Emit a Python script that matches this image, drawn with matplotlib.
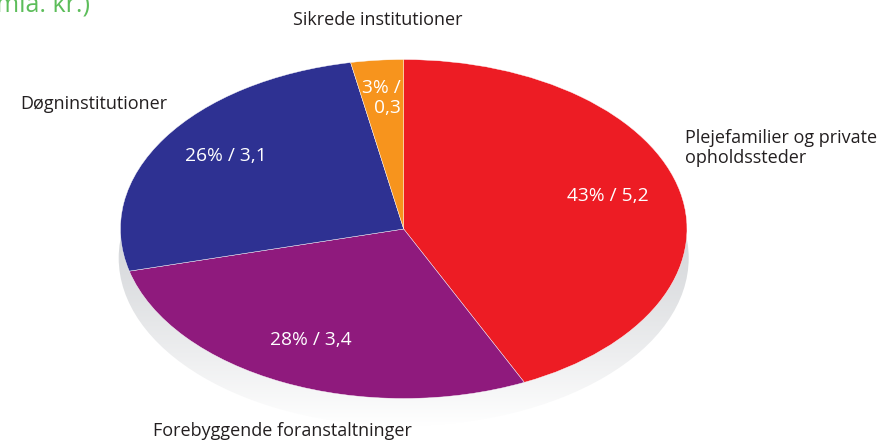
"""Pie chart of spending by measure type (mia. kr.), drawn as a flattened ellipse."""

import matplotlib.pyplot as plt
import numpy as np
from matplotlib.patches import Ellipse

plt.rcParams["font.family"] = ["Open Sans", "DejaVu Sans"]

# data, clockwise from 12 o'clock
categories = [
    "Plejefamilier og private\nopholdssteder",
    "Forebyggende foranstaltninger",
    "Døgninstitutioner",
    "Sikrede institutioner",
]
shares = [43, 28, 26, 3]
amounts = [5.2, 3.4, 3.1, 0.3]
colors = ["#ed1c24", "#8f1a7d", "#2e3192", "#f7941d"]

W, H = 883, 441
CX, CY, RX, RY = 403.7, 229.0, 283.3, 169.5


def fig_xy(x, y):
    """Pixel position (from top-left) to figure fraction."""
    return x / W, 1 - y / H


fig = plt.figure(figsize=(W / 100, H / 100), dpi=100)
ax = fig.add_axes([0, 0, 1, 1])

ax.pie(
    shares,
    colors=colors,
    startangle=90,
    counterclock=False,
    radius=1.0,
    wedgeprops=dict(edgecolor="white", linewidth=0.3),
)
ax.set_aspect("auto")
ax.axis("off")

# grey base under the pie, fading to white
sh_cy = (CY - 258) / RY
shadow = Ellipse((0.0, sh_cy), 2.012, 1.98, transform=ax.transData,
                 facecolor="none", edgecolor="none")
ax.add_patch(shadow)
grad = np.linspace(0, 1, 256).reshape(-1, 1) ** 1.2
base = np.array([0.835, 0.843, 0.855])
rgb = base[None, None, :] + (1 - base)[None, None, :] * grad[:, :, None]
img = ax.imshow(
    rgb,
    extent=(-1.01, 1.01, sh_cy - 0.99, 0.0),
    origin="upper",
    aspect="auto",
    zorder=0,
    interpolation="bilinear",
)
img.set_clip_path(shadow)
ax.set_xlim(-CX / RX, (W - CX) / RX)
ax.set_ylim((CY - H) / RY, CY / RY)

# inside labels
inner = [f"{s}% / {str(a).replace('.', ',')}" for s, a in zip(shares, amounts)]
inner[3] = inner[3].replace(" / ", " /\n")
inner_pos = [(608, 196, "center"), (311, 340, "center"), (226, 156, "center"), (401, 98, "right")]
for txt, (x, y, ha) in zip(inner, inner_pos):
    fig.text(*fig_xy(x, y), txt, color="white", fontsize=13.8, ha=ha, va="center",
             linespacing=1.2)

# outside labels
outer_pos = [(685, 148, "left"), (282, 431, "center"), (20, 104, "left"), (378, 20, "center")]
for txt, (x, y, ha) in zip(categories, outer_pos):
    fig.text(*fig_xy(x, y), txt, color="#231f20", fontsize=13, ha=ha, va="center",
             linespacing=1.2)

# clipped unit line from the chart header
fig.text(*fig_xy(-4, 12), "mia. kr.)", color="#5cbd5a", fontsize=18, ha="left",
         va="baseline")

fig.savefig("out.png", dpi=100)
